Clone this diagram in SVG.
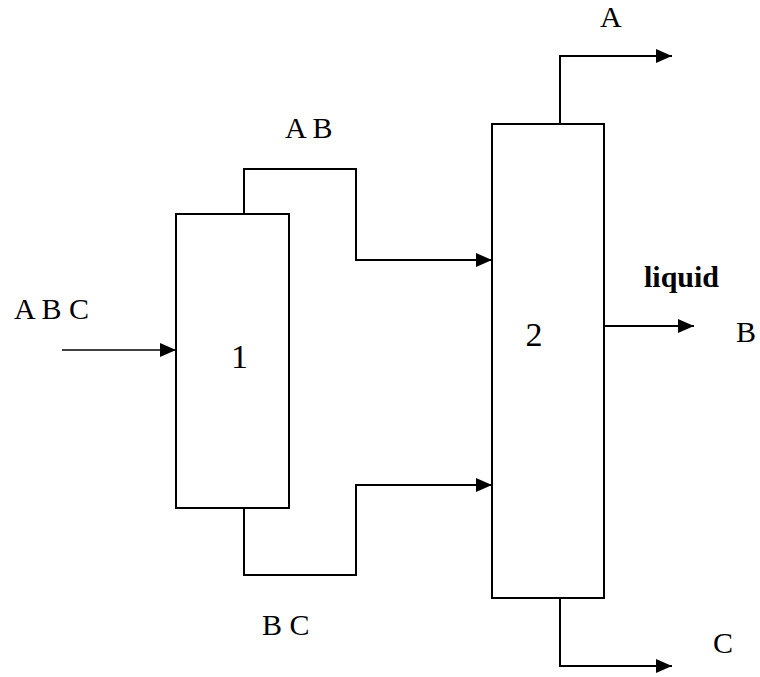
<svg xmlns="http://www.w3.org/2000/svg" width="760" height="677" viewBox="0 0 760 677">
<style>
.box{fill:#fff;stroke:#000;stroke-width:2}
.ln{fill:none;stroke:#000;stroke-width:2}
.t{font-family:"Liberation Serif","Times New Roman",serif;font-size:30px;fill:#000}
.n{font-size:34px}
.b{font-weight:bold}
</style>
<defs>
<marker id="ah" viewBox="0 0 16 14" refX="16" refY="7" markerWidth="16" markerHeight="14" markerUnits="userSpaceOnUse" orient="auto">
<path d="M0,0 L16,7 L0,14 Z" fill="#000"/>
</marker>
</defs>
<rect width="760" height="677" fill="#fff"/>
<g id="connectors">
<path class="ln" style="stroke-width:1.3" d="M62,350 H176" marker-end="url(#ah)"/>
<path class="ln" d="M244,214 V169 H356 V260 H492" marker-end="url(#ah)"/>
<path class="ln" d="M244,508 V575 H356 V485 H492" marker-end="url(#ah)"/>
<path class="ln" d="M560,124 V56 H672" marker-end="url(#ah)"/>
<path class="ln" d="M604,326 H694" marker-end="url(#ah)"/>
<path class="ln" d="M560,598 V666 H672" marker-end="url(#ah)"/>
</g>
<g id="node1">
<rect class="box" x="176" y="214" width="113" height="294"/>
<text class="t n" x="239.5" y="368" text-anchor="middle">1</text>
</g>
<g id="node2">
<rect class="box" x="492" y="124" width="112" height="474"/>
<text class="t n" x="534" y="346" text-anchor="middle">2</text>
</g>
<g id="labels">
<text class="t" x="14" y="319">A B C</text>
<text class="t" x="285" y="138">A B</text>
<text class="t" x="600" y="27">A</text>
<text class="t b" x="644" y="287">liquid</text>
<text class="t" x="736" y="342">B</text>
<text class="t" x="262" y="635">B C</text>
<text class="t" x="713" y="653">C</text>
</g>
</svg>
